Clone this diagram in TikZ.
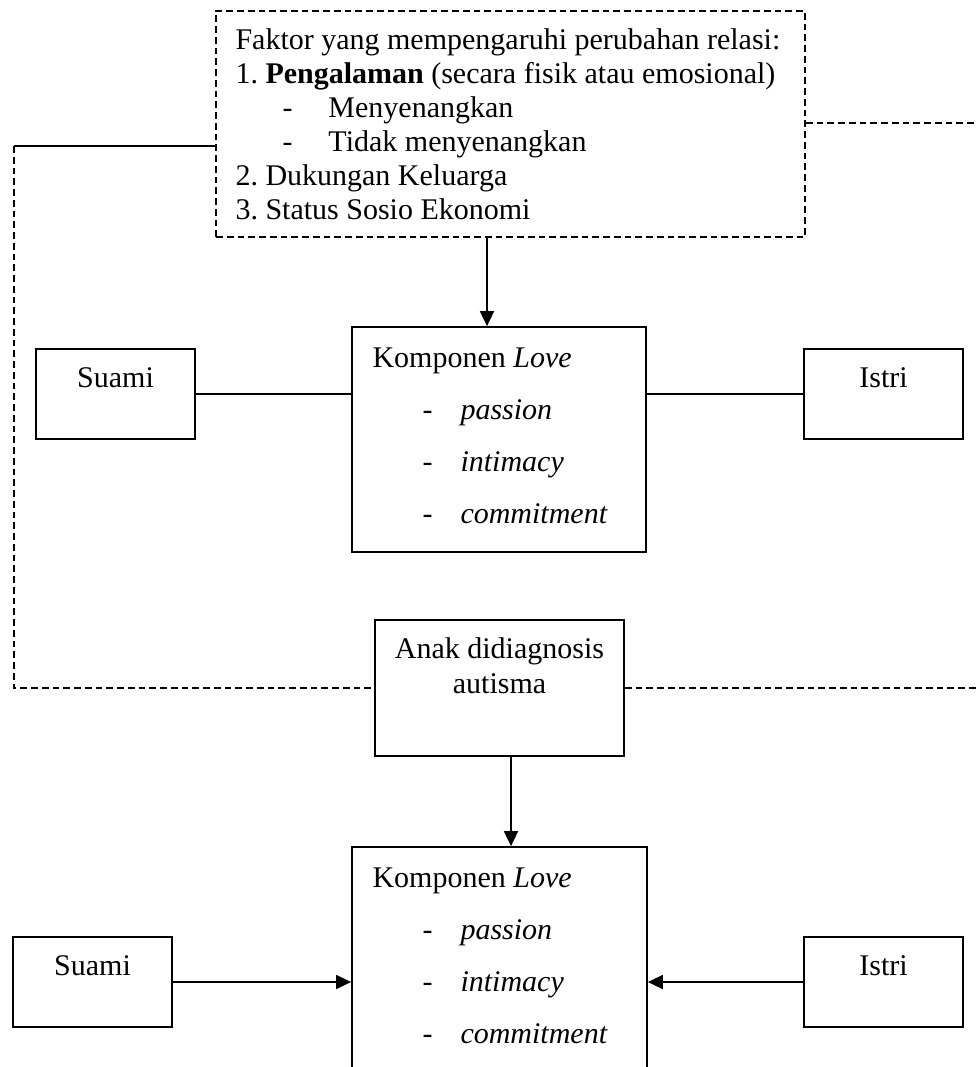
\documentclass[tikz,border=0pt]{standalone}
\usepackage{fontspec}
\setmainfont{Liberation Serif}
\usetikzlibrary{arrows.meta}
\frenchspacing
\begin{document}
\begin{tikzpicture}[x=0.4pt,y=-0.4pt,
  box/.style={draw,line width=0.7pt,inner sep=0pt},
  dbox/.style={box,dash pattern=on 2.7pt off 1.6pt},
  txt/.style={anchor=base west,inner sep=0pt,font=\fontsize{12}{14}\selectfont},
  ctxt/.style={anchor=base,inner sep=0pt,font=\fontsize{12}{14}\selectfont},
  conn/.style={line width=0.7pt},
  dconn/.style={conn,dash pattern=on 2.7pt off 1.6pt},
  arr/.style={conn,-{Triangle[length=6pt,width=5.6pt]}}]
\useasboundingbox (0,0) rectangle (976,1067);

% top factor box
\node[dbox,minimum width=589*0.4pt,minimum height=226*0.4pt] (fak) at (510.5,124) {};
\node[txt] (f1) at (235,49) {Faktor yang mempengaruhi perubahan relasi:};
\node[txt] (f2) at (235,83) {1. \textbf{Pengalaman} (secara fisik atau emosional)};
\node[txt] (f3) at (282,117) {\makebox[18.4pt][l]{-}Menyenangkan};
\node[txt] (f4) at (282,151) {\makebox[18.4pt][l]{-}Tidak menyenangkan};
\node[txt] (f5) at (235,185) {2. Dukungan Keluarga};
\node[txt] (f6) at (235,219) {3. Status Sosio Ekonomi};

% first row
\node[box,minimum width=294*0.4pt,minimum height=225*0.4pt] (k1) at (499,439.5) {};
\node[txt] (k1t) at (372,367) {Komponen \textit{Love}};
\node[txt] (k1a) at (422,419) {\makebox[15.2pt][l]{-}\textit{passion}};
\node[txt] (k1b) at (422,471) {\makebox[15.2pt][l]{-}\textit{intimacy}};
\node[txt] (k1c) at (422,523) {\makebox[15.2pt][l]{-}\textit{commitment}};

\node[box,minimum width=159*0.4pt,minimum height=90*0.4pt] (s1) at (115.5,394) {};
\node[ctxt] (s1t) at (115.5,387) {Suami};
\node[box,minimum width=159*0.4pt,minimum height=90*0.4pt] (i1) at (883.5,394) {};
\node[ctxt] (i1t) at (883.5,387) {Istri};

% anak box
\node[box,minimum width=249*0.4pt,minimum height=136*0.4pt] (an) at (499.5,688) {};
\node[ctxt] (ant1) at (499.5,658) {Anak didiagnosis};
\node[ctxt] (ant2) at (499.5,693) {autisma};

% second row
\node[box,minimum width=295*0.4pt,minimum height=253*0.4pt] (k2) at (499.5,973.5) {};
\node[txt] (k2t) at (372,887) {Komponen \textit{Love}};
\node[txt] (k2a) at (422,939) {\makebox[15.2pt][l]{-}\textit{passion}};
\node[txt] (k2b) at (422,991) {\makebox[15.2pt][l]{-}\textit{intimacy}};
\node[txt] (k2c) at (422,1043) {\makebox[15.2pt][l]{-}\textit{commitment}};

\node[box,minimum width=159*0.4pt,minimum height=90*0.4pt] (s2) at (92.5,982) {};
\node[ctxt] (s2t) at (92.5,975) {Suami};
\node[box,minimum width=159*0.4pt,minimum height=90*0.4pt] (i2) at (883.5,982) {};
\node[ctxt] (i2t) at (883.5,975) {Istri};

% helper coordinates
\coordinate (lc) at (14,0);
\coordinate (lh) at (0,146);
\coordinate (rh) at (0,123);
\coordinate (re) at (976,0);
\coordinate (ax1) at (487,0);
\coordinate (ax2) at (511,0);

% connectors
\draw[conn] (fak.west |- lh) -- (lc |- lh);
\draw[dconn] (lc |- lh) -- (lc |- an.west) -- (an.west);
\draw[dconn] (fak.east |- rh) -- (re |- rh);
\draw[dconn] (an.east) -- (re |- an.east);

\draw[arr] (fak.south -| ax1) -- (k1.north -| ax1);
\draw[conn] (s1.east) -- (s1.east -| k1.west);
\draw[conn] (i1.west) -- (i1.west -| k1.east);

\draw[arr] (an.south -| ax2) -- (k2.north -| ax2);
\draw[arr] (s2.east) -- (s2.east -| k2.west);
\draw[arr] (i2.west) -- (i2.west -| k2.east);
\end{tikzpicture}
\end{document}
